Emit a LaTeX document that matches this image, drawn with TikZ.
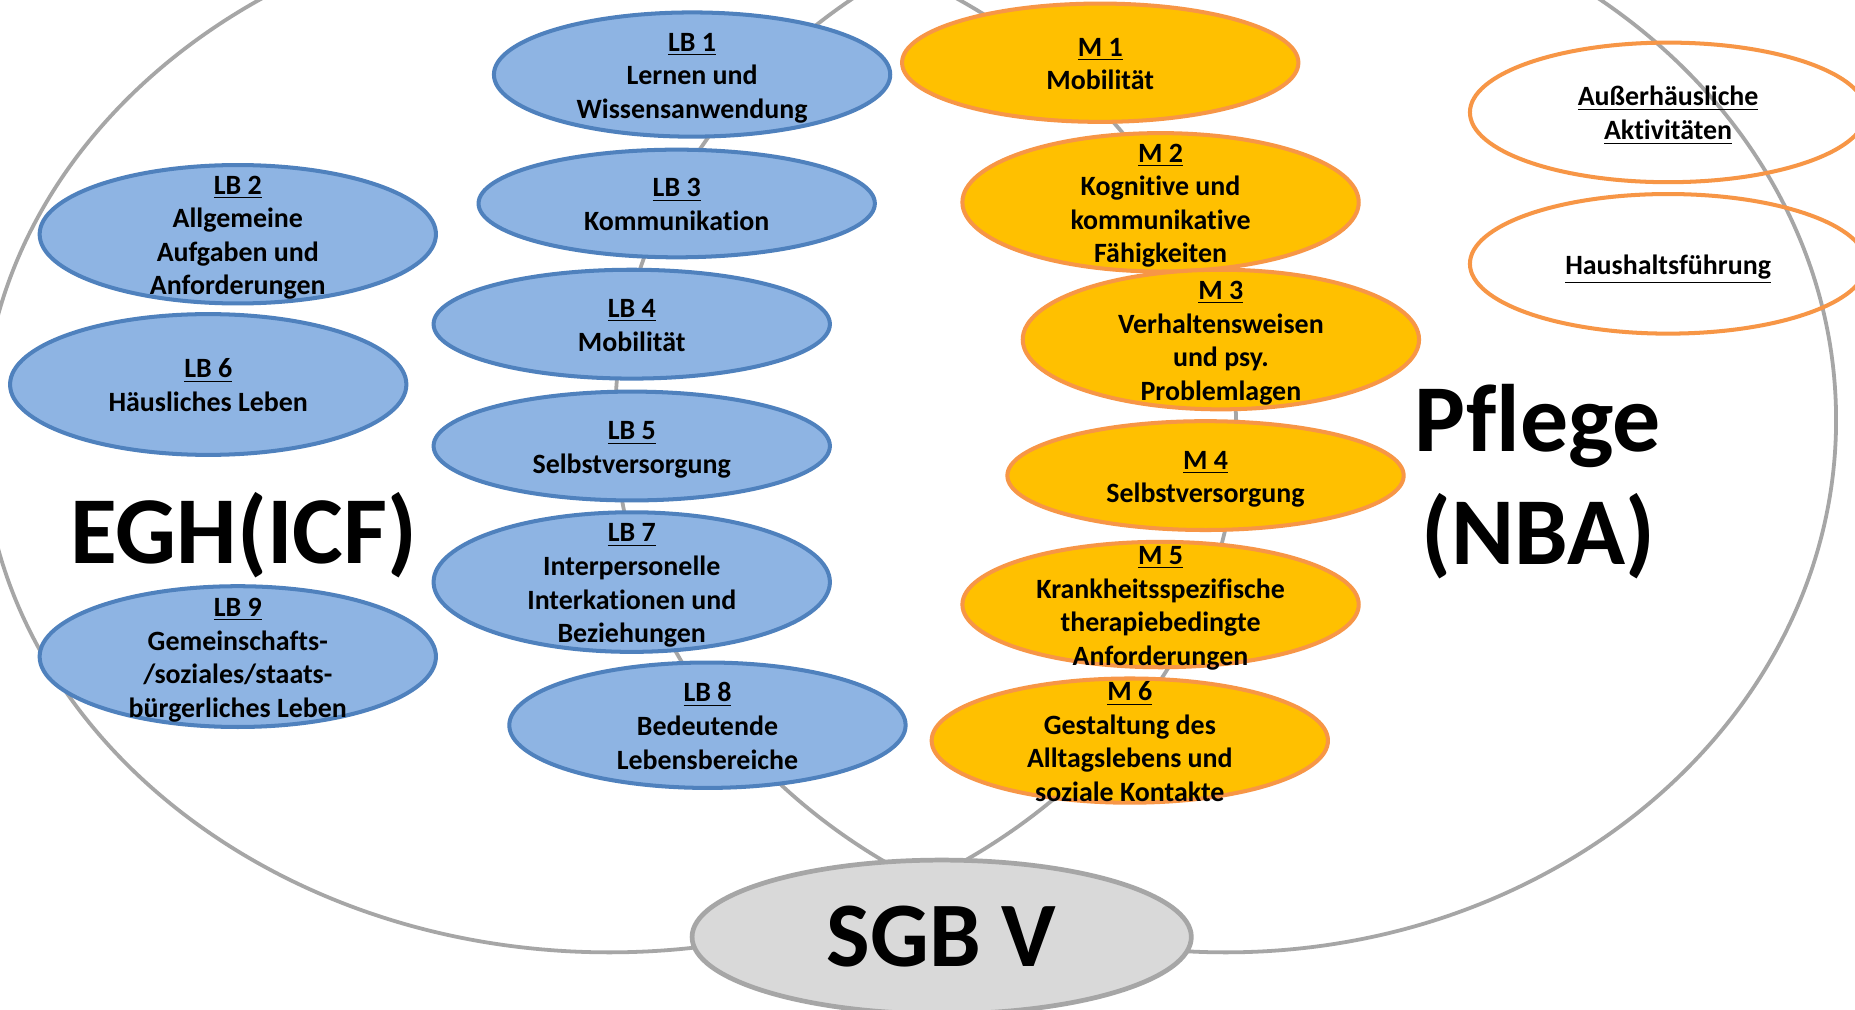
\documentclass[tikz,border=0pt]{standalone}
\usepackage{fontspec}
\setmainfont{Carlito}[Ligatures=NoCommon]
\usepackage{tikz}
\usetikzlibrary{shapes.geometric}
\definecolor{lbfill}{HTML}{8EB4E3}
\definecolor{lbline}{HTML}{4F81BD}
\definecolor{mfill}{HTML}{FFC000}
\definecolor{mline}{HTML}{F79646}
\definecolor{setline}{HTML}{A6A6A6}
\definecolor{sgbfill}{HTML}{D9D9D9}
\newcommand{\hd}[1]{\rule{0pt}{13pt}\underline{#1}}

\begin{document}
\begin{tikzpicture}[x=0.5pt,y=-0.5pt,
  bigset/.style={ellipse,draw=setline,line width=1.6pt},
  area/.style={ellipse,line width=1.7pt,minimum width=167.5pt,inner sep=-14pt,align=center,font=\bfseries\fontsize{11.8}{14.2}\selectfont,execute at end node={\rule[-4.3pt]{0pt}{0pt}}},
  lb/.style={area,draw=lbline,fill=lbfill},
  mod/.style={area,draw=mline,fill=mfill},
  extra/.style={area,draw=mline},
  big/.style={align=center,font=\bfseries\fontsize{40.5}{48}\selectfont}]
\useasboundingbox (0,0) rectangle (1568,853);
\clip (0,0) rectangle (1568,853);
\fill[white] (0,0) rectangle (1568,853);
\node[bigset,minimum width=530pt,minimum height=440pt] (egh) at (515,365) {};
\node[bigset,minimum width=516pt,minimum height=450pt] (nba) at (1036,355) {};
\node[big] (eghlabel) at (206,452) {EGH(ICF)};
\node[big] (nbalabel) at (1300,407) {Pflege\\(NBA)};
\node[lb,minimum height=52.5pt] (lb1) at (585,63) {\hd{LB 1}\\Lernen und\\Wissensanwendung};
\node[lb,minimum height=58.5pt] (lb2) at (201,198) {\hd{LB 2}\\Allgemeine\\Aufgaben und\\Anforderungen};
\node[lb,minimum height=45.5pt] (lb3) at (572,172) {\hd{LB 3}\\Kommunikation};
\node[lb,minimum height=46pt] (lb4) at (534,274) {\hd{LB 4}\\Mobilität};
\node[lb,minimum height=46pt] (lb5) at (534,377) {\hd{LB 5}\\Selbstversorgung};
\node[lb,minimum height=59.5pt] (lb6) at (176,325) {\hd{LB 6}\\Häusliches Leben};
\node[lb,minimum height=59pt] (lb7) at (534,492) {\hd{LB 7}\\Interpersonelle\\Interkationen und\\Beziehungen};
\node[lb,minimum height=53pt] (lb8) at (598,613) {\hd{LB 8}\\Bedeutende\\Lebensbereiche};
\node[lb,minimum height=59.5pt] (lb9) at (201,555) {\hd{LB 9}\\Gemeinschafts-\\/soziales/staats-\\bürgerliches Leben};
\node[mod,minimum height=50pt] (m1) at (930,53) {\hd{M 1}\\Mobilität};
\node[mod,minimum height=58.5pt] (m2) at (981,171) {\hd{M 2}\\Kognitive und\\kommunikative\\Fähigkeiten};
\node[mod,minimum height=59pt] (m3) at (1032,287) {\hd{M 3}\\Verhaltensweisen\\und psy.\\Problemlagen};
\node[mod,minimum height=46pt] (m4) at (1019,402) {\hd{M 4}\\Selbstversorgung};
\node[mod,minimum height=53pt] (m5) at (981,511) {\hd{M 5}\\Krankheitsspezifische\\therapiebedingte\\Anforderungen};
\node[mod,minimum height=52.5pt] (m6) at (955,626) {\hd{M 6}\\Gestaltung des\\Alltagslebens und\\soziale Kontakte};
\node[extra,minimum height=59pt] (out) at (1410,95) {\hd{Außerhäusliche}\\\underline{Aktivitäten}};
\node[extra,minimum height=59pt] (home) at (1410,223) {\hd{Haushaltsführung}};
\node[ellipse,draw=setline,fill=sgbfill,line width=2pt,minimum width=211pt,minimum height=65pt,inner sep=-10pt,font=\bfseries\fontsize{39}{48}\selectfont] (sgb) at (796,792) {SGB V};
\end{tikzpicture}
\end{document}
